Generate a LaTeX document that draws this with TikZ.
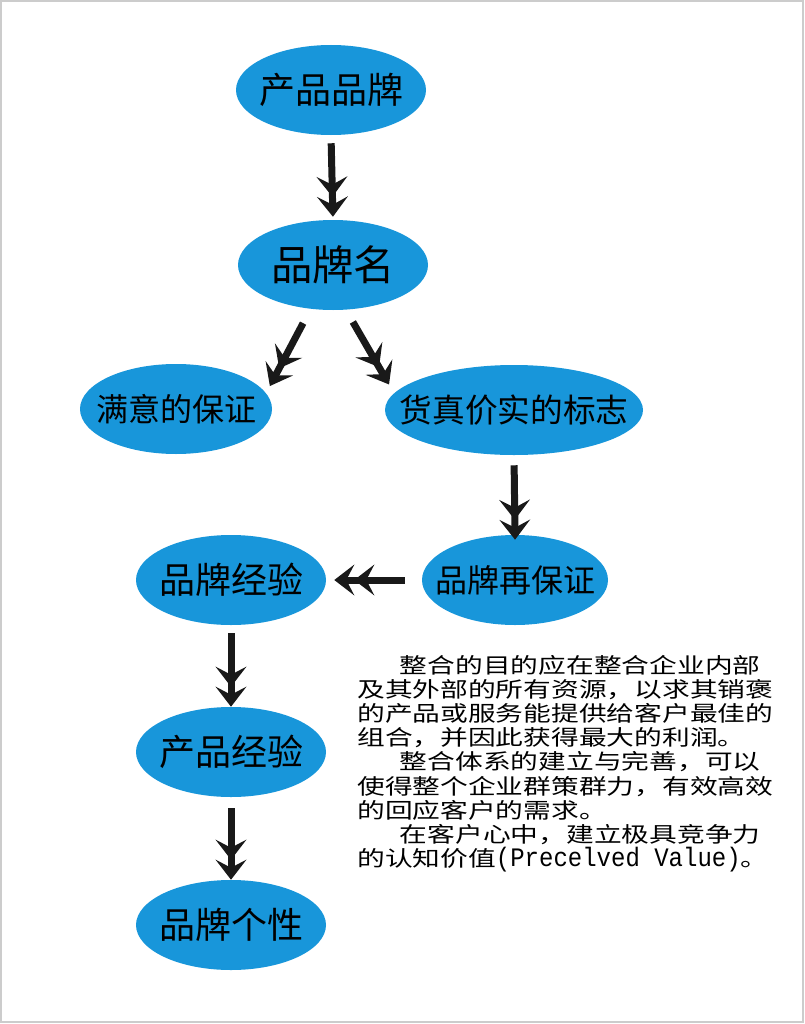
\documentclass[tikz,border=0pt]{standalone}
\usepackage{fontspec}
\newfontfamily\cjk{Noto Sans CJK SC}
\newfontfamily\cjkwide[FakeStretch=1.3]{Noto Sans CJK SC}
\newfontfamily\latinmono[FakeStretch=0.9]{Liberation Mono}
\usetikzlibrary{shapes.geometric,arrows.meta,positioning}
\definecolor{brandblue}{RGB}{24,150,218}

\tikzset{
  brand/.style={ellipse, fill=brandblue, inner xsep=-22pt, inner ysep=0pt,
    minimum width=142.5pt, minimum height=67.5pt, font=\cjk},
  bigarrow/.style={line width=5.25pt, draw=black!90,
    -{Stealth[length=15pt,width=23pt,inset=6pt] Stealth[length=15pt,width=23pt,inset=6pt,sep=-7.5pt]}}
}

\begin{document}
\begin{tikzpicture}[x=0.75pt,y=-0.75pt]
\useasboundingbox (0,0) rectangle (805,1024);
\draw[black!20, line width=1pt] (1,1) rectangle (803,1022);

% the chain of ellipses
\node[brand, font=\cjk\fontsize{27}{30}\selectfont] (pinpai) at (331,90) {产品品牌};
\node[brand, font=\cjk\fontsize{31}{34}\selectfont] (ming) at (333,265) {品牌名};
\node[brand, minimum width=144pt, font=\cjk\fontsize{24}{27}\selectfont] (manyi) at (176,409) {满意的保证};
\node[brand, minimum width=193.5pt, font=\cjk\fontsize{24.5}{27}\selectfont] (huozhen) at (514,410) {货真价实的标志};
\node[brand, minimum width=139.5pt, font=\cjk\fontsize{24}{27}\selectfont] (zaibao) at (515,580) {品牌再保证};
\node[brand, font=\cjk\fontsize{27}{30}\selectfont] (jingyan) at (231,580) {品牌经验};
\node[brand, font=\cjk\fontsize{27}{30}\selectfont] (chanpin) at (231,752) {产品经验};
\node[brand, font=\cjk\fontsize{27}{30}\selectfont] (gexing) at (231,925) {品牌个性};

% connectors
\draw[bigarrow, shorten <=6pt, shorten >=9.75pt] (pinpai.south) -- (ming.north);
\draw[bigarrow, shorten <=12pt, shorten >=13.5pt] (ming.243) -- (manyi.10);
\draw[bigarrow, shorten <=10.5pt, shorten >=15pt] (ming.286) -- (huozhen.172);
\draw[bigarrow, shorten <=7.5pt, shorten >=3.75pt] (huozhen.south) -- (zaibao.north);
\draw[bigarrow, shorten <=12.75pt, shorten >=13.5pt] (zaibao.west) -- (jingyan.east);
\draw[bigarrow, shorten <=6pt, shorten >=7.5pt] (jingyan.south) -- (chanpin.north);
\draw[bigarrow, shorten <=8.25pt, shorten >=7.5pt] (chanpin.south) -- (gexing.north);

% side text
\node[anchor=north west, inner sep=0pt, align=left,
  font=\cjkwide\fontsize{16}{18.1}\selectfont] (note) at (357,655)
  {\hspace*{2em}整合的目的应在整合企业内部\\
   及其外部的所有资源，以求其销褒\\
   的产品或服务能提供给客户最佳的\\
   组合，并因此获得最大的利润。\\
   \hspace*{2em}整合体系的建立与完善，可以\\
   使得整个企业群策群力，有效高效\\
   的回应客户的需求。\\
   \hspace*{2em}在客户心中，建立极具竞争力\\
   的认知价值{\latinmono\fontsize{20}{18.1}\selectfont (Precelved Value)}。};
\end{tikzpicture}
\end{document}
